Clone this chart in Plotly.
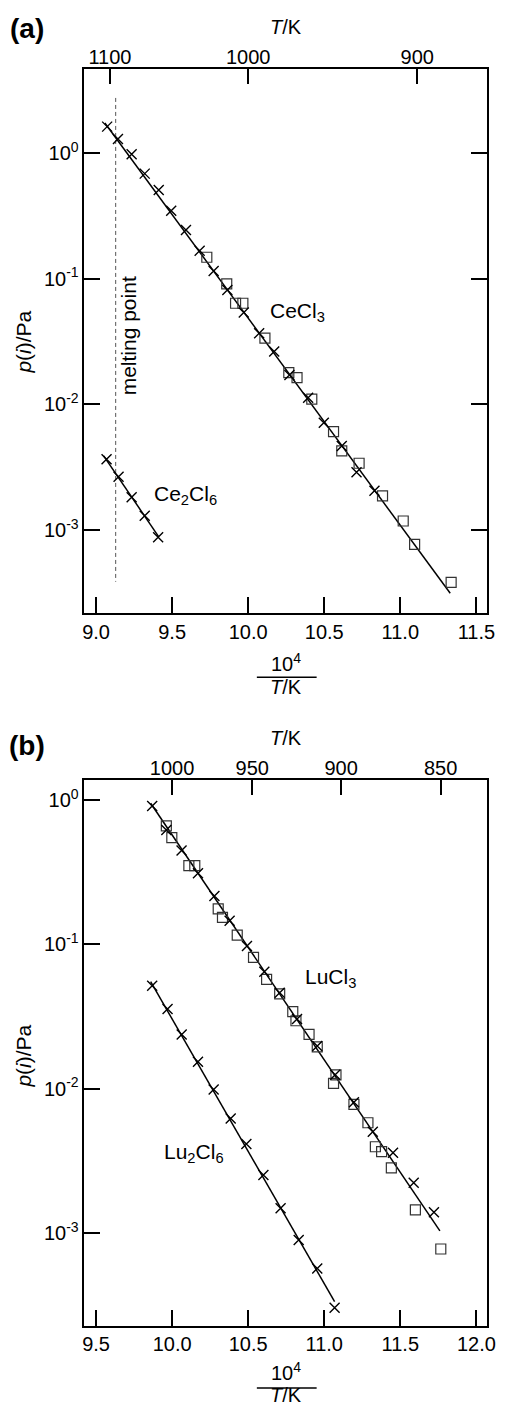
import math
import plotly.graph_objects as go

W, H = 505, 1408
FONT = "Liberation Sans, Arial, Helvetica, sans-serif"

# ---------------- Panel (a) data ----------------
a_cecl3_x_cross = [9.073, 9.144, 9.234, 9.320, 9.412, 9.494, 9.591, 9.681, 9.773, 9.863,
                   9.971, 10.072, 10.171, 10.271, 10.394, 10.497, 10.615, 10.712, 10.830]
a_cecl3_p_cross = [1.62, 1.29, 0.977, 0.685, 0.508, 0.347, 0.244, 0.167, 0.115, 0.0813,
                   0.0537, 0.0368, 0.0263, 0.0171, 0.0113, 0.00715, 0.00466, 0.00288, 0.00205]
a_cecl3_x_sq = [9.728, 9.859, 9.917, 9.965, 10.110, 10.267, 10.321, 10.418, 10.561, 10.615,
                10.729, 10.883, 11.019, 11.094, 11.334]
a_cecl3_p_sq = [0.148, 0.0908, 0.0637, 0.0637, 0.0336, 0.0179, 0.0163, 0.0110, 0.00607, 0.00426,
                0.00340, 0.00187, 0.00118, 0.00077, 0.000384]
a_cecl3_fit_x = [9.058, 11.328]
a_cecl3_fit_p = [1.73, 0.000314]

a_ce2cl6_x = [9.069, 9.148, 9.234, 9.320, 9.408]
a_ce2cl6_p = [0.00366, 0.00266, 0.00182, 0.00130, 0.000877]
a_ce2cl6_fit_x = [9.05, 9.41]
a_ce2cl6_fit_p = [0.00389, 0.000891]

melting_x = [9.129, 9.129]
melting_p = [2.74, 0.000388]

a_x_ticks = [9.0, 9.5, 10.0, 10.5, 11.0, 11.5]
a_T_ticks = [1100, 1000, 900]

# ---------------- Panel (b) data ----------------
b_lucl3_x_cross = [9.869, 9.962, 10.062, 10.170, 10.278, 10.378, 10.492, 10.606, 10.707, 10.821,
                   10.954, 11.072, 11.195, 11.319, 11.452, 11.588, 11.721]
b_lucl3_p_cross = [0.909, 0.620, 0.446, 0.311, 0.216, 0.146, 0.0975, 0.0647, 0.0463, 0.0304,
                   0.0198, 0.0125, 0.00806, 0.00504, 0.00361, 0.00224, 0.00140]
b_lucl3_x_sq = [9.962, 9.998, 10.110, 10.149, 10.303, 10.331, 10.428, 10.535, 10.621, 10.707,
                10.793, 10.814, 10.900, 10.954, 11.077, 11.061, 11.195, 11.287, 11.336, 11.377,
                11.441, 11.599, 11.766]
b_lucl3_p_sq = [0.661, 0.548, 0.351, 0.351, 0.176, 0.154, 0.116, 0.0813, 0.0573, 0.0454,
                0.0342, 0.0296, 0.0238, 0.0195, 0.0125, 0.0109, 0.00781, 0.00582, 0.00397, 0.00367,
                0.00284, 0.00145, 0.000778]
b_lucl3_fit_x = [9.859, 11.760]
b_lucl3_fit_p = [0.949, 0.00104]

b_lu2cl6_x = [9.869, 9.970, 10.063, 10.170, 10.273, 10.385, 10.488, 10.600, 10.713, 10.832,
              10.954, 11.068]
b_lu2cl6_p = [0.0518, 0.0357, 0.0238, 0.0154, 0.00991, 0.00624, 0.00415, 0.00253, 0.00149,
              0.000898, 0.000571, 0.000305]
b_lu2cl6_fit_x = [9.859, 11.068]
b_lu2cl6_fit_p = [0.0552, 0.000336]

b_x_ticks = [9.5, 10.0, 10.5, 11.0, 11.5, 12.0]
b_T_ticks = [1000, 950, 900, 850]

y_ticks = [1, 0.1, 0.01, 0.001]
y_ticktext = ["10<sup>0</sup>", "10<sup>-1</sup>", "10<sup>-2</sup>", "10<sup>-3</sup>"]

# ---------------- styles ----------------
cross = dict(symbol="x-thin", size=10, line=dict(width=1.4, color="black"), color="black")
square = dict(symbol="square-open", size=10, color="#333333", line=dict(width=1.2, color="#333333"))
fitline = dict(color="black", width=1.5)

fig = go.Figure()

def add(x, y, xa, ya, mode, **kw):
    fig.add_trace(go.Scatter(x=x, y=y, xaxis=xa, yaxis=ya, mode=mode,
                             showlegend=False, hoverinfo="skip", **kw))

# Panel a
add(melting_x, melting_p, "x", "y", "lines", line=dict(color="#555555", width=1, dash="4px,3px"))
add(a_cecl3_fit_x, a_cecl3_fit_p, "x", "y", "lines", line=fitline)
add(a_ce2cl6_fit_x, a_ce2cl6_fit_p, "x", "y", "lines", line=fitline)
add(a_cecl3_x_sq, a_cecl3_p_sq, "x", "y", "markers", marker=square)
add(a_cecl3_x_cross, a_cecl3_p_cross, "x", "y", "markers", marker=cross)
add(a_ce2cl6_x, a_ce2cl6_p, "x", "y", "markers", marker=cross)
add([1e4 / t for t in a_T_ticks], [1] * len(a_T_ticks), "x2", "y", "markers",
    marker=dict(opacity=0))

# Panel b
add(b_lucl3_fit_x, b_lucl3_fit_p, "x3", "y2", "lines", line=fitline)
add(b_lu2cl6_fit_x, b_lu2cl6_fit_p, "x3", "y2", "lines", line=fitline)
add(b_lucl3_x_sq, b_lucl3_p_sq, "x3", "y2", "markers", marker=square)
add(b_lucl3_x_cross, b_lucl3_p_cross, "x3", "y2", "markers", marker=cross)
add(b_lu2cl6_x, b_lu2cl6_p, "x3", "y2", "markers", marker=cross)
add([1e4 / t for t in b_T_ticks], [1] * len(b_T_ticks), "x4", "y2", "markers",
    marker=dict(opacity=0))

xdom = [84 / W, 495 / W]
ya_dom = [1 - 613 / H, 1 - 69 / H]
yb_dom = [1 - 1325.7 / H, 1 - 780.3 / H]

TICKSIZE = 20
common = dict(showgrid=False, zeroline=False, showline=True, linecolor="black", linewidth=1.5,
              ticks="inside", ticklen=16, tickwidth=1.5, tickcolor="black",
              tickfont=dict(size=TICKSIZE, color="black", family=FONT))

fig.update_layout(
    width=W, height=H, margin=dict(l=0, r=0, t=0, b=0),
    paper_bgcolor="white", plot_bgcolor="white",
    font=dict(family=FONT, color="black", size=TICKSIZE),
    xaxis=dict(domain=xdom, anchor="y", range=[8.923, 11.571], tickmode="array",
               tickvals=a_x_ticks, ticktext=[f"{v:.1f}" for v in a_x_ticks], mirror=True, **common),
    xaxis2=dict(overlaying="x", anchor="y", side="top", range=[8.923, 11.571], tickmode="array",
                tickvals=[1e4 / t for t in a_T_ticks], ticktext=[str(t) for t in a_T_ticks],
                **{**common, "showline": False, "ticklen": 15}),
    yaxis=dict(domain=ya_dom, anchor="x", type="log", range=[-3.66, 0.668], tickmode="array",
               tickvals=y_ticks, ticktext=y_ticktext, mirror="ticks", **common),
    xaxis3=dict(domain=xdom, anchor="y2", range=[9.423, 12.071], tickmode="array",
                tickvals=b_x_ticks, ticktext=[f"{v:.1f}" for v in b_x_ticks], mirror=True, **common),
    xaxis4=dict(overlaying="x3", anchor="y2", side="top", range=[9.423, 12.071], tickmode="array",
                tickvals=[1e4 / t for t in b_T_ticks], ticktext=[str(t) for t in b_T_ticks],
                **{**common, "showline": False, "ticklen": 15}),
    yaxis2=dict(domain=yb_dom, anchor="x3", type="log", range=[-3.64, 0.136], tickmode="array",
                tickvals=y_ticks, ticktext=y_ticktext, mirror=True, **common),
)

def pa(x, y, text, size=20, yanchor="middle", **kw):
    fig.add_annotation(x=x / W, y=1 - y / H, xref="paper", yref="paper", text=text,
                       showarrow=False, font=dict(size=size, color="black", family=FONT),
                       xanchor="center", yanchor=yanchor, **kw)

# Panel labels and axis titles
pa(25, 28, "<b>(a)</b>", size=28)
pa(25, 745, "<b>(b)</b>", size=28)
pa(290, 27, "<i>T</i>/K")
pa(290, 738, "<i>T</i>/K")
pa(21, 342, "<i>p</i>(<i>i</i>)/Pa", size=21, textangle=-90)
pa(21, 1056, "<i>p</i>(<i>i</i>)/Pa", size=21, textangle=-90)
pa(290, 662, "10<sup>4</sup>")
pa(290, 687, "<i>T</i>/K")
pa(290, 1371, "10<sup>4</sup>")
pa(290, 1408, "<i>T</i>/K", yanchor="bottom")
for yl in (677.3, 1388):
    fig.add_shape(type="line", xref="paper", yref="paper", x0=260 / W, x1=321 / W,
                  y0=1 - yl / H, y1=1 - yl / H, line=dict(color="black", width=1.5))

# In-plot labels (data coordinates)
def da(x, p, text, xa, ya, **kw):
    fig.add_annotation(x=x, y=math.log10(p), xref=xa, yref=ya, text=text,
                       showarrow=False, font=dict(size=21, color="black", family=FONT), **kw)

da(10.327, 10 ** -1.265, "CeCl<sub>3</sub>", "x", "y")
da(9.586, 10 ** -2.721, "Ce<sub>2</sub>Cl<sub>6</sub>", "x", "y")
da(9.219, 10 ** -1.456, "melting point", "x", "y", textangle=-90)
da(11.040, 10 ** -1.233, "LuCl<sub>3</sub>", "x3", "y2")
da(10.144, 10 ** -2.445, "Lu<sub>2</sub>Cl<sub>6</sub>", "x3", "y2")

fig.write_html("out.html")
